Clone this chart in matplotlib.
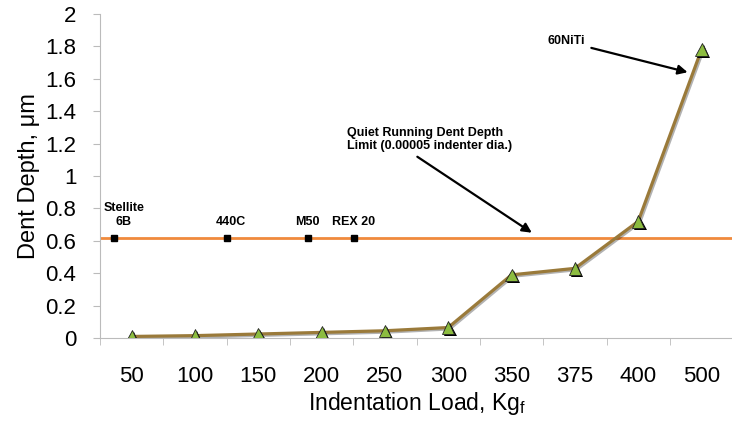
import numpy as np
import matplotlib.pyplot as plt
import matplotlib.patheffects as pe

plt.rcParams['font.family'] = ['Liberation Sans', 'DejaVu Sans']

# Data
loads = ["50", "100", "150", "200", "250", "300", "350", "375", "400", "500"]
depth = [0.01, 0.015, 0.025, 0.035, 0.045, 0.065, 0.39, 0.43, 0.72, 1.78]

limit = 0.62
materials = ["Stellite\n6B", "440C", "M50", "REX 20"]
mat_pos = [-0.28, 1.50, 2.78, 3.51]

x = np.arange(len(loads))

fig = plt.figure(figsize=(7.32, 4.21), dpi=100)
ax = fig.add_axes([0.1366, 0.197, 0.865, 0.77])

# quiet running limit
ax.axhline(limit, color="#f08a3c", lw=2.0, zorder=2)
ax.plot(mat_pos, [limit] * len(mat_pos), "s", color="black", ms=5, zorder=4)
label_dx = [0.16, 0.06, 0.0, 0.0]
for xp, dx, lab in zip(mat_pos, label_dx, materials):
    ax.text(xp + dx, limit + 0.06, lab, ha="center", va="bottom",
            fontsize=9, fontweight="bold", linespacing=1.15)

# dent depth curve
ax.plot(x, depth, "-", color="#9a7a3a", lw=2.3, zorder=3,
        path_effects=[pe.SimpleLineShadow(offset=(1, -1), alpha=0.3), pe.Normal()])
ax.plot(x, depth, "^", color="#8cbc40", mec="#222222", mew=0.6, ms=9, zorder=5,
        path_effects=[pe.SimplePatchShadow(offset=(1.5, -1.5), shadow_rgbFace="black",
                                           alpha=1.0), pe.Normal()])

# annotations
ax.annotate("Quiet Running Dent Depth\nLimit (0.00005 indenter dia.)",
            xy=(6.32, limit + 0.03), xytext=(3.4, 1.15),
            fontsize=9, fontweight="bold", ha="left", va="bottom",
            linespacing=1.1,
            arrowprops=dict(arrowstyle="-|>", color="black", lw=1.6,
                            shrinkA=3, shrinkB=0, mutation_scale=14,
                            relpos=(0.38, 0)))
ax.annotate("60NiTi", xy=(8.78, 1.64), xytext=(6.56, 1.83),
            fontsize=9, fontweight="bold", ha="left", va="center",
            arrowprops=dict(arrowstyle="-|>", color="black", lw=1.6,
                            shrinkA=3, shrinkB=0, mutation_scale=14))

ax.set_xlim(-0.5, len(loads) - 0.5)
ax.set_ylim(0, 2)
ax.set_yticks(np.arange(0, 2.01, 0.2))
ax.set_yticklabels(["0", "0.2", "0.4", "0.6", "0.8", "1", "1.2", "1.4", "1.6", "1.8", "2"])
ax.set_xticks(x)
ax.set_xticklabels(loads)
ax.set_xticks(np.arange(-0.5, len(loads), 1), minor=True)
ax.tick_params(axis="x", which="major", length=0, pad=20, labelsize=16)
ax.tick_params(axis="x", which="minor", length=5, color="#bbbbbb")
ax.tick_params(axis="y", length=5, color="#bbbbbb", labelsize=16, pad=12)

for s in ["top", "right"]:
    ax.spines[s].set_visible(False)
for s in ["left", "bottom"]:
    ax.spines[s].set_color("#bbbbbb")

ax.set_xlabel("Indentation Load, Kg$_\\mathregular{f}$", fontsize=16.5, labelpad=2)
ax.set_ylabel("Dent Depth, μm", fontsize=17, labelpad=4)

fig.savefig("out.png", dpi=100)
